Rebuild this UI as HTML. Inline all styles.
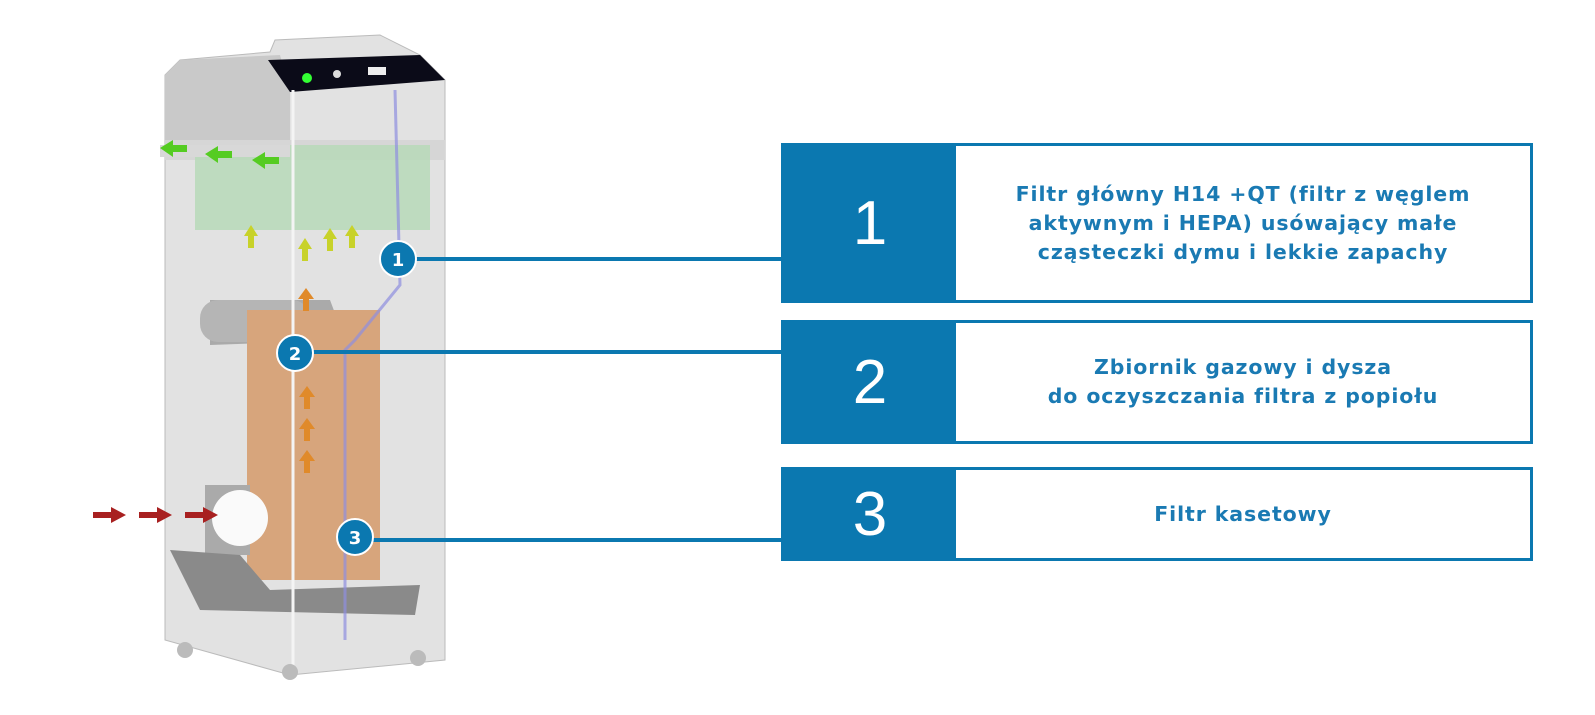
<!DOCTYPE html>
<html><head><meta charset="utf-8"><style>
body{margin:0;width:1595px;height:715px;background:#fff;position:relative;overflow:hidden;font-family:"Liberation Sans",sans-serif}
.p{position:absolute;left:781px;width:752px;box-sizing:border-box;border:3px solid #0b78b0;background:#fff}
.n{position:absolute;left:0;top:0;bottom:0;width:172px;background:#0b78b0;color:#fff;font-size:62px;display:flex;align-items:center;justify-content:center}
.t{position:absolute;left:172px;right:0;top:0;bottom:0;display:flex;align-items:center;justify-content:center;text-align:center;color:#1a7ab3;font:bold 20.5px/29px "DejaVu Sans",sans-serif;letter-spacing:0.9px}
</style></head><body>
<svg width="1595" height="715" style="position:absolute;left:0;top:0">
<path d="M165 75 L180 60 L270 52 L275 40 L380 35 L420 55 L445 80 L445 660 L290 675 L165 640 Z" fill="#e2e2e2" stroke="#bbb"/>
<path d="M165 75 L180 60 L280 55 L290 90 L290 140 L165 140 Z" fill="#c9c9c9"/>
<path d="M268 60 L420 55 L445 80 L290 92 Z" fill="#0b0b18"/>
<circle cx="307" cy="78" r="5" fill="#3f3"/><circle cx="337" cy="74" r="4" fill="#ddd"/><rect x="368" y="67" width="18" height="8" fill="#eee"/>
<rect x="165" y="140" width="280" height="20" fill="#d6d6d6"/>
<rect x="195" y="145" width="235" height="85" fill="#b7d9b9" opacity=".85"/>
<rect x="160" y="145" width="130" height="12" fill="#d8d8d8"/>
<path d="M210 300 L330 300 L345 340 L210 345 Z" fill="#aaa"/>
<rect x="200" y="300" width="110" height="42" rx="18" fill="#b5b5b5"/>
<rect x="247" y="310" width="133" height="270" fill="#d7a57c"/>
<rect x="205" y="485" width="45" height="70" fill="#aaa"/><circle cx="240" cy="518" r="28" fill="#fafafa"/>
<path d="M170 550 L240 555 L270 590 L420 585 L415 615 L200 610 Z" fill="#8a8a8a"/>
<path d="M293 90 L293 675" stroke="#f4f4f4" stroke-width="3"/>
<path d="M395 90 L400 285 L355 340 L345 350 L345 640" stroke="#8f8fe0" stroke-width="3" fill="none" opacity=".7"/>
<circle cx="185" cy="650" r="8" fill="#bbb"/><circle cx="290" cy="672" r="8" fill="#bbb"/><circle cx="418" cy="658" r="8" fill="#bbb"/>
<g fill="#55cc22"><path d="M160 148 l13 -8 v5 h14 v7 h-14 v5z"/><path d="M205 154 l13 -8 v5 h14 v7 h-14 v5z"/><path d="M252 160 l13 -8 v5 h14 v7 h-14 v5z"/></g>
<g fill="#c8d22a"><path d="M251 225 l-7 11 h4 v12 h6 v-12 h4z"/><path d="M305 238 l-7 11 h4 v12 h6 v-12 h4z"/><path d="M330 228 l-7 11 h4 v12 h6 v-12 h4z"/><path d="M352 225 l-7 11 h4 v12 h6 v-12 h4z"/></g>
<g fill="#e08a2a"><path d="M306 288 l-8 11 h5 v12 h6 v-12 h5z"/><path d="M307 386 l-8 11 h5 v12 h6 v-12 h5z"/><path d="M307 418 l-8 11 h5 v12 h6 v-12 h5z"/><path d="M307 450 l-8 11 h5 v12 h6 v-12 h5z"/></g>
<g fill="#a82020"><path d="M93 512 h18 v-5 l15 8 l-15 8 v-5 h-18z"/><path d="M139 512 h18 v-5 l15 8 l-15 8 v-5 h-18z"/><path d="M185 512 h18 v-5 l15 8 l-15 8 v-5 h-18z"/></g>
<g stroke="#0b78b0" stroke-width="4"><line x1="398" y1="259" x2="782" y2="259"/><line x1="295" y1="352" x2="782" y2="352"/><line x1="355" y1="540" x2="782" y2="540"/></g>
<g fill="#0b78b0" stroke="#fff" stroke-width="2"><circle cx="398" cy="259" r="18"/><circle cx="295" cy="353" r="18"/><circle cx="355" cy="537" r="18"/></g>
<g fill="#fff" font-family="DejaVu Sans,sans-serif" font-weight="bold" font-size="18" text-anchor="middle"><text x="398" y="266">1</text><text x="295" y="360">2</text><text x="355" y="544">3</text></g>
</svg>
<div class="p" style="top:143px;height:160px"><div class="n">1</div><div class="t">Filtr główny H14 +QT (filtr z węglem<br>aktywnym i HEPA) usówający małe<br>cząsteczki dymu i lekkie zapachy</div></div>
<div class="p" style="top:320px;height:124px"><div class="n">2</div><div class="t">Zbiornik gazowy i dysza<br>do oczyszczania filtra z popiołu</div></div>
<div class="p" style="top:467px;height:94px"><div class="n">3</div><div class="t">Filtr kasetowy</div></div>
</body></html>
